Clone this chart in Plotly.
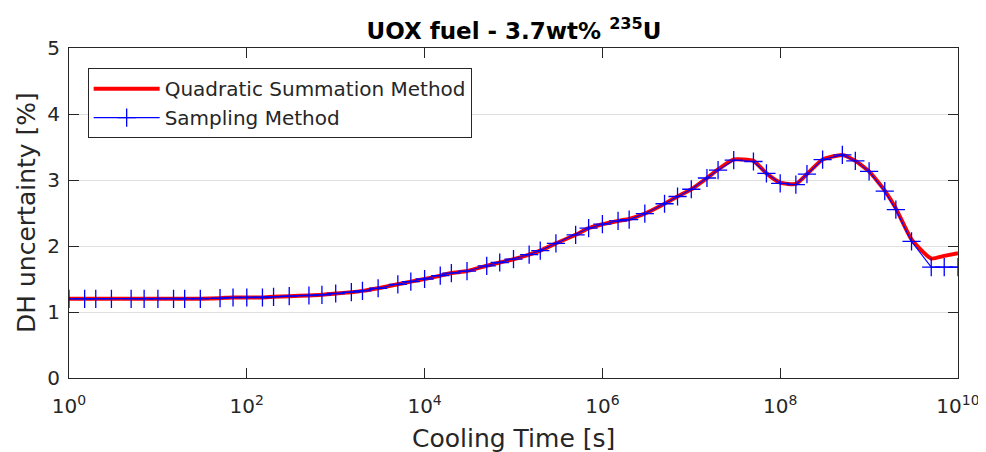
import plotly.graph_objects as go

# Cooling times [s]
cooling_time = [
    1, 1.5, 2, 3, 5, 7,
    1e1, 1.5e1, 2e1, 3e1, 5e1, 7e1,
    1e2, 1.5e2, 2e2, 3e2, 5e2, 7e2,
    1e3, 1.5e3, 2e3, 3e3, 5e3, 7e3,
    1e4, 1.5e4, 2e4, 3e4, 5e4, 7e4,
    1e5, 1.5e5, 2e5, 3e5, 5e5, 7e5,
    1e6, 1.5e6, 2e6, 3e6, 5e6, 7e6,
    1e7, 1.5e7, 2e7, 3e7, 5e7, 7e7,
    1e8, 1.5e8, 2e8, 3e8, 5e8, 7e8,
    1e9, 1.5e9, 2e9, 3e9, 5e9, 7e9,
    1e10,
]

# Sampling Method uncertainty [%]
sampling = [
    1.20, 1.20, 1.20, 1.20, 1.20, 1.20,
    1.20, 1.20, 1.20, 1.20, 1.21, 1.22,
    1.22, 1.22, 1.23, 1.24, 1.25, 1.26,
    1.28, 1.30, 1.32, 1.36, 1.42, 1.46,
    1.50, 1.55, 1.59, 1.62, 1.70, 1.75,
    1.80, 1.87, 1.93, 2.04, 2.17, 2.27,
    2.33, 2.38, 2.40, 2.49, 2.64, 2.75,
    2.86, 3.03, 3.15, 3.30, 3.28, 3.10,
    2.95, 2.93, 3.09, 3.31, 3.38, 3.29,
    3.13, 2.83, 2.55, 2.07, 1.68, 1.68,
    1.68,
]

# Quadratic Summation Method uncertainty [%]
quadratic = [
    1.20, 1.20, 1.20, 1.20, 1.20, 1.20,
    1.20, 1.20, 1.20, 1.20, 1.21, 1.22,
    1.22, 1.22, 1.23, 1.24, 1.25, 1.26,
    1.28, 1.30, 1.32, 1.36, 1.42, 1.46,
    1.50, 1.55, 1.59, 1.62, 1.70, 1.75,
    1.80, 1.87, 1.93, 2.04, 2.17, 2.27,
    2.33, 2.38, 2.41, 2.49, 2.64, 2.75,
    2.86, 3.03, 3.16, 3.31, 3.29, 3.10,
    2.96, 2.94, 3.09, 3.31, 3.38, 3.29,
    3.13, 2.84, 2.57, 2.10, 1.81, 1.85,
    1.89,
]

x_tickvals = [1, 1e2, 1e4, 1e6, 1e8, 1e10]
x_ticktext = ["10<sup>0</sup>", "10<sup>2</sup>", "10<sup>4</sup>",
              "10<sup>6</sup>", "10<sup>8</sup>", "10<sup>10</sup>"]
y_tickvals = [0, 1, 2, 3, 4, 5]

x_title = "Cooling Time [s]"
y_title = "DH uncertainty [%]"
chart_title = "<b>UOX fuel - 3.7wt% <sup>235</sup>U</b>"

font_family = "DejaVu Sans"
axis_color = "#262626"

# figure sits 8px in from the page's top-left corner (default body margin)
W, H = 978, 444

fig = go.Figure()
fig.add_trace(go.Scatter(
    x=cooling_time, y=quadratic, mode="lines",
    name="Quadratic Summation Method",
    line=dict(color="#ff0000", width=4, shape="spline", smoothing=0.5),
))
fig.add_trace(go.Scatter(
    x=cooling_time, y=sampling, mode="lines+markers",
    name="Sampling Method",
    line=dict(color="#0000ff", width=1.1),
    marker=dict(symbol="cross-thin", size=13, line=dict(color="#0000ff", width=1.3)),
))

fig.update_layout(
    width=W, height=H,
    margin=dict(l=61, r=28, t=40, b=74, autoexpand=False),
    paper_bgcolor="white", plot_bgcolor="white",
    font=dict(family=font_family, color=axis_color),
    title=dict(text=chart_title, xref="container", yref="container",
               x=506 / W, xanchor="center", y=1 - 22.5 / H, yanchor="middle",
               font=dict(size=23, color="#000000", family=font_family)),
    showlegend=True,
    legend=dict(x=0.021, y=0.939, xanchor="left", yanchor="top",
                bgcolor="white", bordercolor="#262626", borderwidth=1,
                font=dict(size=20, color=axis_color, family=font_family),
                tracegroupgap=0, itemwidth=66),
    annotations=[
        dict(text=x_title, xref="paper", yref="paper", x=0.5, y=-(438 - 378) / 330,
             xanchor="center", yanchor="middle", showarrow=False,
             font=dict(size=25, color=axis_color, family=font_family)),
        dict(text=y_title, xref="paper", yref="paper", x=-(69 - 26) / 889, y=0.5,
             xanchor="center", yanchor="middle", showarrow=False, textangle=-90,
             font=dict(size=25, color=axis_color, family=font_family)),
    ],
)
fig.update_xaxes(
    type="log", range=[0, 10], automargin=False,
    tickvals=x_tickvals, ticktext=x_ticktext,
    ticks="inside", ticklen=10, tickcolor=axis_color,
    showline=True, linecolor=axis_color, linewidth=1.2, mirror="ticks",
    showgrid=False, zeroline=False, ticklabelstandoff=10,
    tickfont=dict(size=20, color=axis_color),
)
fig.update_yaxes(
    range=[0, 5], tickvals=y_tickvals, automargin=False,
    ticks="inside", ticklen=10, tickcolor=axis_color,
    showline=True, linecolor=axis_color, linewidth=1.2, mirror="ticks",
    showgrid=True, gridcolor="#e0e0e0", gridwidth=1, zeroline=False,
    ticklabelstandoff=4,
    tickfont=dict(size=20, color=axis_color),
)

fig.write_html("out.html")
